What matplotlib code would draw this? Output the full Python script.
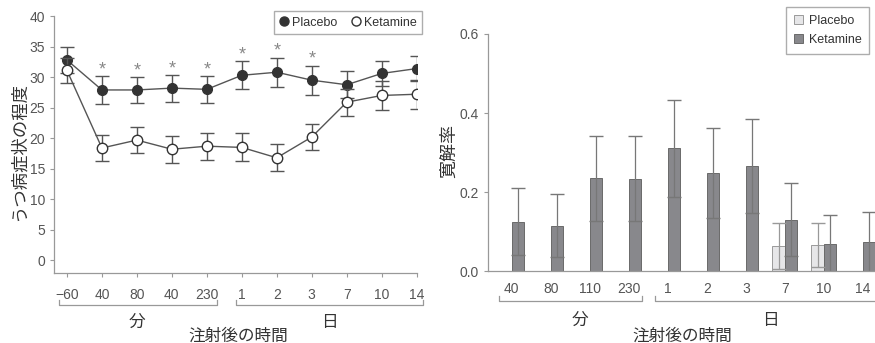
import matplotlib
matplotlib.use("Agg")
import matplotlib.pyplot as plt
from matplotlib.lines import Line2D
from matplotlib.patches import Patch
import numpy as np

plt.rcParams['font.family'] = ['Liberation Sans', 'DejaVu Sans']
JP = ['Noto Sans CJK JP', 'DejaVu Sans']

# 左: うつ病症状の程度
line_labels = ['−60', '40', '80', '40', '230', '1', '2', '3', '7', '10', '14']
placebo_mean = [32.8, 27.9, 27.9, 28.2, 28.0, 30.3, 30.8, 29.5, 28.75, 30.6, 31.4]
placebo_err = [2.1, 2.3, 2.1, 2.2, 2.2, 2.3, 2.4, 2.4, 2.2, 2.0, 2.1]
ketamine_mean = [31.1, 18.4, 19.7, 18.2, 18.7, 18.5, 16.8, 20.2, 25.9, 27.0, 27.2]
ketamine_err = [2.1, 2.2, 2.1, 2.2, 2.2, 2.3, 2.2, 2.2, 2.2, 2.4, 2.4]
signif = [False, True, True, True, True, True, True, True, False, False, False]

# 右: 寛解率
bar_labels = ['40', '80', '110', '230', '1', '2', '3', '7', '10', '14']
bar_placebo = [0, 0, 0, 0, 0, 0, 0, 0.064, 0.066, 0]
bar_placebo_err = [0, 0, 0, 0, 0, 0, 0, 0.057, 0.056, 0]
bar_ketamine = [0.125, 0.115, 0.235, 0.234, 0.311, 0.248, 0.266, 0.130, 0.069, 0.075]
bar_ketamine_err = [0.085, 0.080, 0.108, 0.108, 0.122, 0.114, 0.118, 0.092, 0.073, 0.076]

W, H = 875, 343
fig = plt.figure(figsize=(W / 100, H / 100), dpi=100)

gray = '#999999'
txt = '#555555'
dark = '#333333'

def px(x0, y0, x1, y1):
    return [x0 / W, 1 - y1 / H, (x1 - x0) / W, (y1 - y0) / H]

def style(ax):
    for s in ['top', 'right']:
        ax.spines[s].set_visible(False)
    for s in ['left', 'bottom']:
        ax.spines[s].set_color(gray)
        ax.spines[s].set_linewidth(0.9)
    ax.tick_params(colors=gray, labelcolor=txt, labelsize=10, length=3, width=0.8)

# ---- 左のグラフ
ax1 = fig.add_axes(px(54, 16, 416.7, 272.7))
style(ax1)
x = np.arange(len(line_labels))
ax1.errorbar(x, placebo_mean, yerr=placebo_err, color='#555555', lw=1.0,
             marker='o', ms=7, mfc=dark, mec=dark, capsize=5, elinewidth=1.0,
             ecolor='#555555', zorder=3)
ax1.errorbar(x, ketamine_mean, yerr=ketamine_err, color='#555555', lw=1.0,
             marker='o', ms=7.5, mfc='white', mec=dark, mew=1.0, capsize=5,
             elinewidth=1.0, ecolor='#555555', zorder=4)
for i, s in enumerate(signif):
    if s:
        ax1.text(i, placebo_mean[i] + placebo_err[i] + 1.0, '*', ha='center',
                 va='center', fontsize=13, color='#888888')
ax1.set_xlim(-0.37, 10.0)
ax1.set_ylim(-2, 40)
ax1.set_yticks(range(0, 41, 5))
ax1.set_xticks(x)
ax1.set_xticklabels(line_labels)
ax1.tick_params(axis='x', pad=8)
h1 = [Line2D([], [], ls='none', marker='o', ms=6.5, mfc=dark, mec=dark),
      Line2D([], [], ls='none', marker='o', ms=6.5, mfc='white', mec=dark)]
ax1.legend(h1, ['Placebo', 'Ketamine'], loc='upper right', ncol=2, frameon=True,
           fancybox=False, fontsize=9, edgecolor=gray, handlelength=0.7,
           columnspacing=1.1, handletextpad=0.3, borderpad=0.45,
           bbox_to_anchor=(422 / W, 1 - 11 / H), bbox_transform=fig.transFigure,
           borderaxespad=0, labelcolor=dark)
for x0, x1 in [(-0.22, 4.29), (4.84, 10.18)]:
    ax1.plot([x0, x0, x1, x1], [-6.4, -7.25, -7.25, -6.4], color=gray, lw=0.9,
             clip_on=False)
ax1.set_ylabel('うつ病症状の程度', family=JP, fontsize=12.5, color=dark)
ax1.yaxis.set_label_coords(-0.074, 0.474)

fig.text(137 / W, 1 - 322 / H, '分', family=JP, fontsize=12, color=dark,
         ha='center', va='center')
fig.text(329 / W, 1 - 322 / H, '日', family=JP, fontsize=12, color=dark,
         ha='center', va='center')
fig.text(238 / W, 1 - 336 / H, '注射後の時間', family=JP, fontsize=12, color=dark,
         ha='center', va='center')

# ---- 右のグラフ
ax2 = fig.add_axes(px(488, 34, 875, 271.3))
style(ax2)
xb = np.arange(len(bar_labels))
bw = 0.32
ax2.bar(xb - bw / 2, bar_placebo, bw, color='#e6e6e8', edgecolor='#9a9a9a',
        lw=0.7)
ax2.bar(xb + bw / 2, bar_ketamine, bw, color='#88888c', edgecolor='#6a6a6a',
        lw=0.7)
pm = np.array(bar_placebo) > 0
ax2.errorbar((xb - bw / 2)[pm], np.array(bar_placebo)[pm],
             yerr=np.array(bar_placebo_err)[pm], fmt='none', ecolor='#999999',
             elinewidth=0.9, capsize=5)
ax2.errorbar(xb + bw / 2, bar_ketamine, yerr=bar_ketamine_err, fmt='none',
             ecolor='#777777', elinewidth=0.9, capsize=5)
ax2.set_xlim(-0.607, 9.31)
ax2.set_ylim(0, 0.6)
ax2.set_yticks([0, 0.2, 0.4, 0.6])
ax2.set_yticklabels(['0.0', '0.2', '0.4', '0.6'])
ax2.set_xticks(xb)
ax2.set_xticklabels(bar_labels)
ax2.tick_params(axis='x', length=0, pad=8)
h2 = [Patch(facecolor='#e6e6e8', edgecolor='#9a9a9a', lw=0.7),
      Patch(facecolor='#88888c', edgecolor='#6a6a6a', lw=0.7)]
ax2.legend(h2, ['Placebo', 'Ketamine'], loc='upper right', frameon=True,
           fancybox=False, fontsize=9, edgecolor=gray, handlelength=0.75,
           handleheight=0.75, handletextpad=0.45, borderpad=0.6, labelspacing=0.6,
           bbox_to_anchor=(869 / W, 1 - 7 / H), bbox_transform=fig.transFigure,
           borderaxespad=0, labelcolor=dark)
for x0, x1 in [(-0.325, 3.34), (3.67, 9.8)]:
    ax2.plot([x0, x0, x1, x1], [-0.062, -0.075, -0.075, -0.062], color=gray,
             lw=0.9, clip_on=False)
ax2.set_ylabel('寛解率', family=JP, fontsize=13, color=dark)
ax2.yaxis.set_label_coords(-0.0775, 0.505)

fig.text(580 / W, 1 - 320 / H, '分', family=JP, fontsize=12, color=dark,
         ha='center', va='center')
fig.text(770 / W, 1 - 320 / H, '日', family=JP, fontsize=12, color=dark,
         ha='center', va='center')
fig.text(682 / W, 1 - 336 / H, '注射後の時間', family=JP, fontsize=12, color=dark,
         ha='center', va='center')

fig.savefig('out.png', dpi=100)
